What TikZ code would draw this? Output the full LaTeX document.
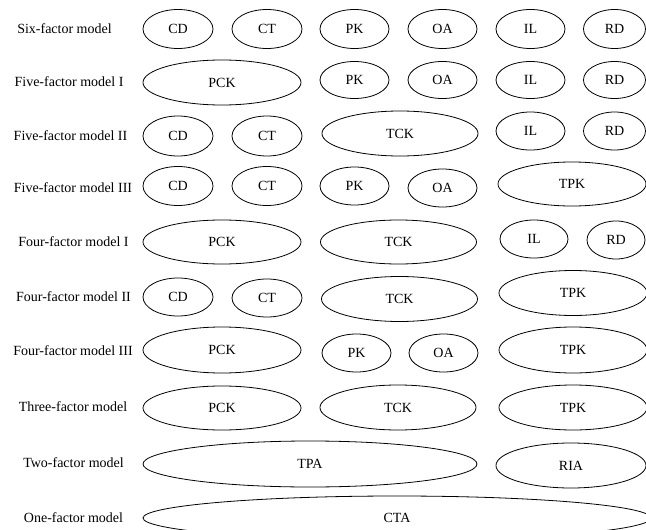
\documentclass[tikz,border=0pt]{standalone}
\usepackage{fontspec}
\setmainfont{Liberation Serif}
\usetikzlibrary{shapes.geometric}
\tikzset{
  ell/.style={draw, ellipse, line width=0.8pt, inner sep=0pt, font=\fontsize{14}{16}\selectfont, text height=10pt, text depth=1pt},
  lab/.style={inner sep=0pt, font=\fontsize{14}{16}\selectfont, text height=10pt, text depth=1pt},
}
\newcommand{\el}[6]{\node[ell, minimum width=#4pt, minimum height=#5pt] (#1) at (#2,#3) {#6};}
\begin{document}
\begin{tikzpicture}[x=1pt,y=-1pt]
\useasboundingbox (0,0) rectangle (646,530);
% labels
\node[lab] (l1) at (64.5,29) {Six-factor model};
\node[lab] (l2) at (69,82) {Five-factor model I};
\node[lab] (l3) at (70.5,136) {Five-factor model II};
\node[lab] (l4) at (73,188) {Five-factor model III};
\node[lab] (l5) at (73.5,242) {Four-factor model I};
\node[lab] (l6) at (73.5,297) {Four-factor model II};
\node[lab] (l7) at (73,351) {Four-factor model III};
\node[lab] (l8) at (73,407) {Three-factor model};
\node[lab] (l9) at (73.5,463) {Two-factor model};
\node[lab] (l10) at (73.5,518) {One-factor model};
% row 1
\el{a1}{178}{29}{70}{39}{CD}
\el{a2}{267}{29}{70}{39}{CT}
\el{a3}{354.5}{29}{69}{39}{PK}
\el{a4}{442.5}{29}{69}{39}{OA}
\el{a5}{530.5}{29}{69}{39}{IL}
\el{a6}{614.5}{29}{62}{39}{RD}
% row 2
\el{b1}{222}{82.5}{158}{45}{PCK}
\el{b2}{354.5}{80}{69}{37}{PK}
\el{b3}{442.5}{80}{69}{37}{OA}
\el{b4}{530.5}{80}{69}{37}{IL}
\el{b5}{614.5}{80}{62}{37}{RD}
% row 3
\el{c1}{178}{136}{70}{40}{CD}
\el{c2}{267}{136}{70}{40}{CT}
\el{c3}{400}{133.5}{156}{45}{TCK}
\el{c4}{530.5}{131}{69}{38}{IL}
\el{c5}{614.5}{131}{62}{38}{RD}
% row 4
\el{d1}{178}{186}{70}{39}{CD}
\el{d2}{267}{186}{70}{39}{CT}
\el{d3}{354.5}{186}{69}{38}{PK}
\el{d4}{442.5}{188}{69}{38}{OA}
\el{d5}{572}{184}{148}{44}{TPK}
% row 5
\el{e1}{222}{242}{158}{44}{PCK}
\el{e2}{398.5}{242}{156}{44}{TCK}
\el{e3}{534}{239}{68}{38}{IL}
\el{e4}{616}{240}{58}{38}{RD}
% row 6
\el{f1}{178}{297}{70}{38}{CD}
\el{f2}{267}{298}{70}{38}{CT}
\el{f3}{399.5}{299}{156}{45}{TCK}
\el{f4}{573}{293}{148}{45}{TPK}
% row 7
\el{g1}{222}{350}{158}{46}{PCK}
\el{g2}{356.5}{353}{69}{38}{PK}
\el{g3}{443.5}{353}{69}{38}{OA}
\el{g4}{573}{350}{148}{46}{TPK}
% row 8
\el{h1}{222}{408}{158}{44}{PCK}
\el{h2}{398}{407.5}{156}{45}{TCK}
\el{h3}{573}{407.5}{148}{45}{TPK}
% row 9
\el{i1}{310}{464}{334}{46}{TPA}
\el{i2}{571}{465.5}{150}{45}{RIA}
% row 10
\el{j1}{397}{518}{508}{44}{CTA}
\end{tikzpicture}
\end{document}
